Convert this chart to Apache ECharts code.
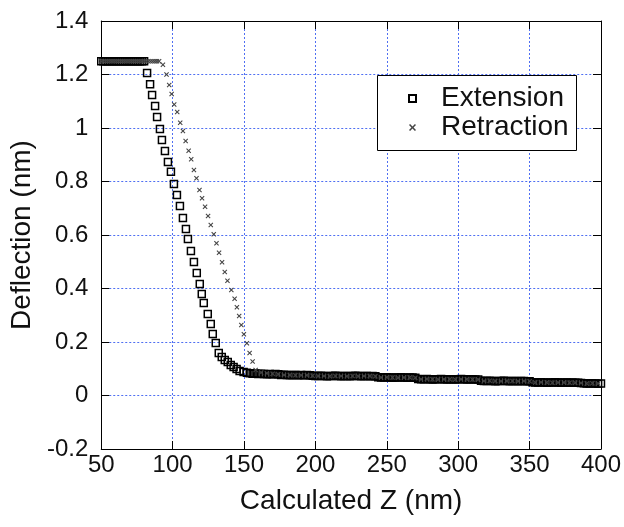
<!DOCTYPE html>
<html>
<head>
<meta charset="utf-8">
<script src="https://cdn.jsdelivr.net/npm/echarts@6/dist/echarts.min.js"></script>
<style>
html,body{margin:0;padding:0;background:#fff;}
#chart{width:624px;height:527px;}
</style>
</head>
<body>
<div id="chart"></div>
<script>
// ---- data ----
const xTicks = [50, 100, 150, 200, 250, 300, 350, 400];
const yTicks = [-0.2, 0, 0.2, 0.4, 0.6, 0.8, 1, 1.2, 1.4];
const seriesNames = ["Extension", "Retraction"];

const extZ = [
  50,51.5,53,54.5,56,57.5,59,60.5,62,63.5,65,66.5,68,69.5,71,72.5,74,75.5,77,78.5,80,
  82.1,84.2,85.6,87.7,89.1,91.1,92.5,94.6,96.7,98.8,100.9,103,105.1,107.2,109.3,110.7,112.8,114.9,116.9,119,120.4,121.8,124.6,126.7,128.1,130.2,132.3,
  134.4,136.5,138.6,140.7,142.7,144.8,146.9,149.7,152,154,
  156,158,160,162,164,166,168,170,172,174,
  176,178,180,182,184,186,188,190,192,194,196,
  198,200,202,204,206,208,210,212,214,216,218,220,222,224,226,228,230,232,234,236,238,240,242,
  244,246,248,250,252,254,256,258,260,262,264,266,268,270,
  272,274,276,278,280,282,284,286,288,290,292,294,296,298,300,302,304,306,308,310,312,314,
  316,318,320,322,324,326,328,330,332,334,336,338,340,342,344,346,348,350,
  352,354,356,358,360,362,364,366,368,370,372,374,376,378,380,382,384,386,
  388,390,392,394,396,398,400
];
const extD = [
  1.25,1.25,1.25,1.25,1.25,1.25,1.25,1.25,1.25,1.25,1.25,1.25,1.25,1.25,1.25,1.25,1.25,1.25,1.25,1.25,1.25,
  1.206,1.164,1.123,1.082,1.041,0.996,0.955,0.914,0.873,0.836,0.791,0.750,0.708,0.664,0.622,0.585,0.540,0.499,0.458,0.417,0.379,0.346,0.305,0.267,0.230,0.196,0.159,
  0.144,0.133,0.125,0.114,0.107,0.099,0.092,0.088,0.085,0.083,
  0.081,0.082,0.080,0.081,0.080,0.079,0.080,0.079,0.080,0.079,
  0.077,0.078,0.077,0.076,0.077,0.077,0.076,0.077,0.076,0.077,0.076,
  0.074,0.073,0.073,0.074,0.073,0.072,0.073,0.073,0.074,0.073,0.072,0.073,0.073,0.072,0.073,0.074,0.073,0.072,0.073,0.073,0.072,0.073,0.072,
  0.068,0.067,0.067,0.068,0.067,0.066,0.067,0.067,0.068,0.067,0.066,0.067,0.067,0.066,
  0.062,0.061,0.061,0.062,0.061,0.060,0.061,0.061,0.062,0.061,0.060,0.061,0.061,0.060,0.061,0.062,0.061,0.060,0.061,0.061,0.060,0.060,
  0.055,0.054,0.054,0.055,0.054,0.053,0.054,0.054,0.055,0.054,0.053,0.054,0.054,0.053,0.054,0.054,0.053,0.053,
  0.050,0.049,0.049,0.050,0.049,0.048,0.049,0.049,0.050,0.049,0.048,0.049,0.049,0.048,0.049,0.048,0.048,0.047,
  0.046,0.045,0.045,0.046,0.045,0.044,0.045
];

const retZ = [
  50,51.5,53,54.5,56,57.5,59,60.5,62,63.5,65,66.5,68,69.5,71,72.5,74,75.5,77,78.5,80,81.5,83,84.5,86,87.5,89,90.5,
  93.2,95.7,97.6,99.3,101.1,103.2,105.3,107.2,109.1,111.2,113.0,114.9,116.7,118.8,120.6,122.7,124.8,126.7,128.8,130.7,132.5,134.6,136.5,138.4,141.1,143.4,145.0,146.6,148.1,149.9,152.0,153.9,156.0,158.1,
  162,166,170,174,178,182,186,190,194,198,
  202,206,210,214,218,222,226,230,234,238,242,
  246,250,254,258,262,266,270,
  274,278,282,286,290,294,298,302,306,310,314,
  318,322,326,330,334,338,342,346,350,
  354,358,362,366,370,374,378,382,386,
  390,394,398
];
const retD = [
  1.25,1.25,1.25,1.25,1.25,1.25,1.25,1.25,1.25,1.25,1.25,1.25,1.25,1.25,1.25,1.25,1.25,1.25,1.25,1.25,1.25,1.25,1.25,1.25,1.25,1.25,1.25,1.25,
  1.236,1.200,1.161,1.127,1.088,1.060,1.020,0.989,0.951,0.915,0.883,0.843,0.812,0.768,0.737,0.706,0.671,0.637,0.603,0.569,0.534,0.498,0.462,0.429,0.394,0.362,0.330,0.297,0.264,0.229,0.195,0.159,0.127,0.095,
  0.086,0.083,0.081,0.079,0.077,0.077,0.076,0.076,0.076,0.074,
  0.073,0.073,0.072,0.073,0.073,0.072,0.073,0.072,0.073,0.073,0.072,
  0.067,0.068,0.067,0.066,0.067,0.067,0.066,
  0.061,0.062,0.061,0.060,0.061,0.061,0.060,0.061,0.061,0.060,0.060,
  0.054,0.055,0.054,0.053,0.054,0.054,0.053,0.054,0.053,
  0.049,0.050,0.049,0.048,0.049,0.049,0.048,0.048,0.047,
  0.045,0.046,0.045
];

// ---- build chart ----
const FONT = "Liberation Sans";
const zip = (a, b) => a.map((v, i) => [v, b[i]]);
const GRID_COLOR = "#4f6ff2";

const xMin = xTicks[0], xMax = xTicks[xTicks.length - 1], xInt = xTicks[1] - xTicks[0];
const yMin = yTicks[0], yMax = yTicks[yTicks.length - 1], yInt = 0.2;

const baseX = {
  type: "value", min: xMin, max: xMax, interval: xInt,
  axisLine: { show: true, onZero: false, lineStyle: { color: "#000", width: 1 } },
  axisTick: { show: true, inside: true, length: 8, lineStyle: { color: "#000", width: 1 } }
};
const baseY = {
  type: "value", min: yMin, max: yMax, interval: yInt,
  axisLine: { show: true, onZero: false, lineStyle: { color: "#000", width: 1 } },
  axisTick: { show: true, inside: true, length: 8, lineStyle: { color: "#000", width: 1 } }
};

const xCross = "path://M0,1.5 L1.5,0 L5,3.5 L8.5,0 L10,1.5 L6.5,5 L10,8.5 L8.5,10 L5,6.5 L1.5,10 L0,8.5 L3.5,5 Z";

const option = {
  animation: false,
  backgroundColor: "#fff",
  grid: { left: 101, right: 21, top: 21, bottom: 78, containLabel: false },
  xAxis: [
    Object.assign({}, baseX, {
      position: "bottom",
      axisLabel: { show: true, margin: 4, fontFamily: FONT, fontSize: 24, color: "#111" },
      splitLine: { show: true, lineStyle: { color: GRID_COLOR, type: [2, 2], width: 1 } },
      name: "Calculated Z (nm)", nameLocation: "middle", nameGap: 38,
      nameTextStyle: { fontFamily: FONT, fontSize: 28, color: "#111" }
    }),
    Object.assign({}, baseX, {
      position: "top",
      axisLabel: { show: false }, splitLine: { show: false }
    })
  ],
  yAxis: [
    Object.assign({}, baseY, {
      position: "left",
      axisLabel: { show: true, margin: 13, fontFamily: FONT, fontSize: 24, color: "#111",
        formatter: v => String(Math.round(v * 10) / 10) },
      splitLine: { show: true, lineStyle: { color: GRID_COLOR, type: [2, 2], width: 1 } },
      name: "Deflection (nm)", nameLocation: "middle", nameGap: 55,
      nameTextStyle: { fontFamily: FONT, fontSize: 28, color: "#111" }
    }),
    Object.assign({}, baseY, {
      position: "right",
      axisLabel: { show: false }, splitLine: { show: false }
    })
  ],
  graphic: [{
    type: "rect", z: 5,
    shape: { x: 377.5, y: 75.5, width: 199, height: 75 },
    style: { fill: "#fff", stroke: "#000", lineWidth: 1 }
  }],
  legend: {
    z: 10, left: 408, top: 84, orient: "vertical", padding: 0, itemGap: 0,
    itemWidth: 7, itemHeight: 7,
    data: seriesNames,
    textStyle: { fontFamily: FONT, fontSize: 28, lineHeight: 29, color: "#111", padding: [0, 0, 0, 20] }
  },
  series: [
    {
      name: seriesNames[0], type: "scatter", xAxisIndex: 0, yAxisIndex: 0,
      symbol: "rect", symbolSize: 7,
      itemStyle: { color: "rgba(255,255,255,0)", borderColor: "#000", borderWidth: 1.5, opacity: 1 },
      emphasis: { disabled: true },
      data: zip(extZ, extD)
    },
    {
      name: seriesNames[1], type: "scatter", xAxisIndex: 0, yAxisIndex: 0,
      symbol: xCross, symbolSize: 5,
      itemStyle: { color: "#444", opacity: 1 },
      emphasis: { disabled: true },
      data: zip(retZ, retD)
    }
  ]
};

const chart = echarts.init(document.getElementById("chart"), null, { renderer: "canvas" });
chart.setOption(option);
</script>
</body>
</html>
